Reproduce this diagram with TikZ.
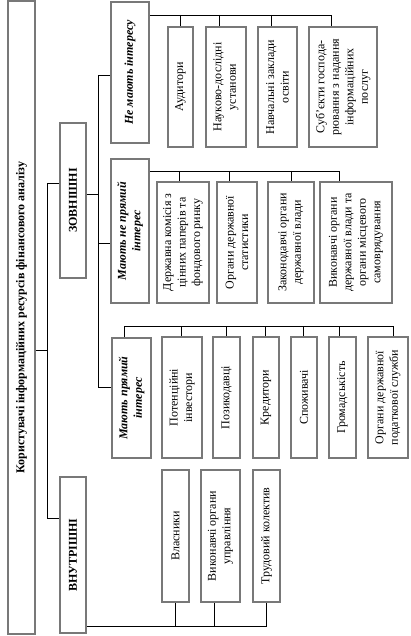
\documentclass[tikz,border=0pt]{standalone}
\usepackage{fontspec}
\setmainfont{Liberation Serif}
\begin{document}
\begin{tikzpicture}[x=1pt,y=-1pt,
  ubox/.style={draw={rgb,255:red,120;green,120;blue,120},line width=1.6pt,rotate=90,inner sep=0pt,align=center,
    font=\fontsize{12}{14.5}\selectfont},
  tbox/.style={ubox,font=\fontsize{12}{14.5}\selectfont\bfseries},
  cbox/.style={ubox,font=\fontsize{12}{14.5}\selectfont\bfseries\itshape},
  conn/.style={draw=black,line width=0.8pt}]
\useasboundingbox (0,0) rectangle (410,636);
% level 0-1
\node[tbox,minimum width=633pt,minimum height=27pt] (main) at (21.5,317.5) {Користувачі інформаційних ресурсів фінансового аналізу};
\node[tbox,minimum width=155pt,minimum height=26pt] (zov) at (73,200.5) {ЗОВНІШНІ};
\node[tbox,minimum width=156pt,minimum height=26pt] (vnu) at (73,555) {ВНУТРІШНІ};
% categories
\node[cbox,minimum width=141pt,minimum height=38pt] (nem) at (130,72.5) {Не мають інтересу};
\node[cbox,minimum width=144pt,minimum height=38pt] (nep) at (130,231) {Мають не прямий\\інтерес};
\node[cbox,minimum width=120pt,minimum height=39pt] (pry) at (131.5,398) {Мають прямий\\інтерес};
% no interest
\node[ubox,minimum width=120pt,minimum height=25pt] (aud) at (180.5,87) {Аудитори};
\node[ubox,minimum width=120pt,minimum height=40pt] (nauk) at (226,87) {Науково-дослідні\\установи};
\node[ubox,minimum width=120pt,minimum height=39pt] (navch) at (277.5,87) {Навчальні заклади\\освіти};
\node[ubox,minimum width=120pt,minimum height=68pt] (sub) at (343,87) {Суб’єкти господа-\\рювання з надання\\інформаційних\\послуг};
% indirect interest
\node[ubox,minimum width=121pt,minimum height=52pt] (derzh) at (183,242.5) {Державна комісія з\\цінних паперів та\\фондового ринку};
\node[ubox,minimum width=121pt,minimum height=40pt] (stat) at (237,242.5) {Органи державної\\статистики};
\node[ubox,minimum width=121pt,minimum height=46pt] (zak) at (291,242.5) {Законодавчі органи\\державної влади};
\node[ubox,minimum width=121pt,minimum height=72pt] (vyk) at (356,242.5) {Виконавчі органи\\державної влади та\\органи місцевого\\самоврядування};
% direct interest
\node[ubox,minimum width=121pt,minimum height=40pt] (pot) at (182,397.5) {Потенційні\\інвестори};
\node[ubox,minimum width=121pt,minimum height=27pt] (pozyk) at (226.5,397.5) {Позикодавці};
\node[ubox,minimum width=121pt,minimum height=26pt] (kred) at (266,397.5) {Кредитори};
\node[ubox,minimum width=121pt,minimum height=26pt] (spozh) at (304,397.5) {Споживачі};
\node[ubox,minimum width=121pt,minimum height=27pt] (hrom) at (342.5,397.5) {Громадськість};
\node[ubox,minimum width=121pt,minimum height=40pt] (podat) at (388,397.5) {Органи державної\\податкової служби};
% internal
\node[ubox,minimum width=132pt,minimum height=27pt] (vlas) at (175.5,536) {Власники};
\node[ubox,minimum width=132pt,minimum height=39pt] (vykup) at (220.5,536) {Виконавчі органи\\управління};
\node[ubox,minimum width=132pt,minimum height=27pt] (trud) at (266.5,536) {Трудовий колектив};
% junction coordinates
\coordinate (j0) at (47,350);
\coordinate (jz) at (47,183);
\coordinate (jv) at (47,518);
\coordinate (e0) at (98,194);
\coordinate (e1) at (98,75);
\coordinate (e2) at (98,243);
\coordinate (e3) at (98,387);
\coordinate (b1) at (331,15);
\coordinate (b2) at (339,171);
\coordinate (b3s) at (124,326);
\coordinate (b3) at (393,326);
\coordinate (bi) at (266,626);
% main connectors
\draw[conn] (j0 -| main.south) -- (j0);
\draw[conn] (jz -| zov.north) -- (jz) -- (jv) -- (jv -| vnu.north);
% external
\draw[conn] (e0 -| zov.south) -- (e0);
\draw[conn] (e1 -| nem.north) -- (e1) -- (e3) -- (e3 -| pry.north);
\draw[conn] (e2) -- (e2 -| nep.north);
% no interest bus
\draw[conn] (b1 -| nem.south) -- (b1) -- (b1 |- sub.east);
\draw[conn] (aud.east |- b1) -- (aud.east);
\draw[conn] ([xshift=-7pt]nauk.east |- b1) -- ([xshift=-7pt]nauk.east);
\draw[conn] ([xshift=-6.5pt]navch.east |- b1) -- ([xshift=-6.5pt]navch.east);
% indirect bus
\draw[conn] (b2 -| nep.south) -- (b2) -- (b2 |- vyk.east);
\draw[conn] ([xshift=-4pt]derzh.east |- b2) -- ([xshift=-4pt]derzh.east);
\draw[conn] ([xshift=-8pt]stat.east |- b2) -- ([xshift=-8pt]stat.east);
\draw[conn] (zak.east |- b2) -- (zak.east);
% direct bus
\draw[conn] (b3s |- pry.east) -- (b3s) -- (b3) -- (b3 |- podat.east);
\draw[conn] ([xshift=-1pt]pot.east |- b3) -- ([xshift=-1pt]pot.east);
\draw[conn] (pozyk.east |- b3) -- (pozyk.east);
\draw[conn] ([xshift=-1pt]kred.east |- b3) -- ([xshift=-1pt]kred.east);
\draw[conn] ([xshift=-1pt]spozh.east |- b3) -- ([xshift=-1pt]spozh.east);
\draw[conn] ([xshift=-3.5pt]hrom.east |- b3) -- ([xshift=-3.5pt]hrom.east);
% internal bus
\draw[conn] (bi -| vnu.south) -- (bi) -- (bi |- trud.west);
\draw[conn] (vlas.west |- bi) -- (vlas.west);
\draw[conn] ([xshift=-6.5pt]vykup.west |- bi) -- ([xshift=-6.5pt]vykup.west);
\end{tikzpicture}
\end{document}
